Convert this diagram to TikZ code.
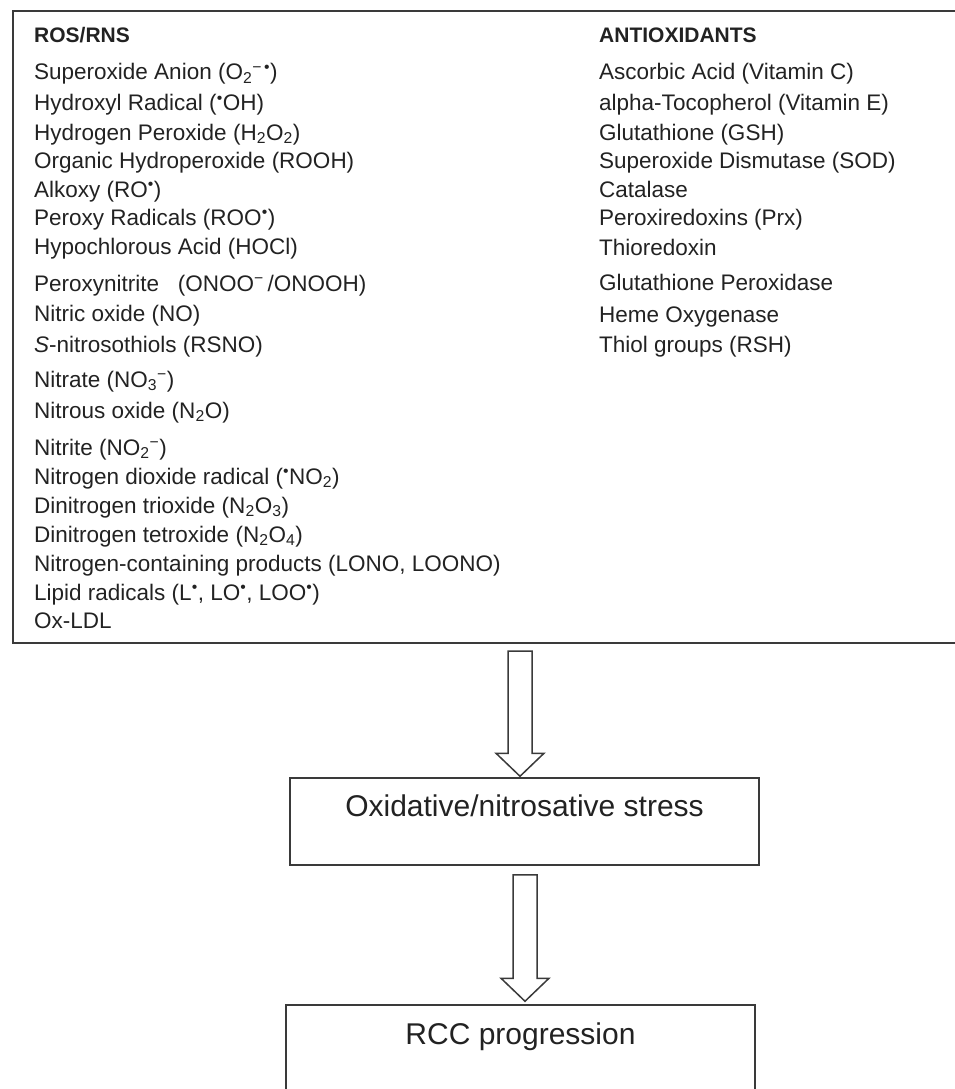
\documentclass[tikz,border=0pt]{standalone}
\usepackage{fontspec}
\setmainfont{Liberation Sans}
\usetikzlibrary{calc, positioning}
\definecolor{inkgray}{HTML}{222222}
\definecolor{framegray}{HTML}{3A3A3A}

% hollow block arrow from a top point to a tip point
\newcommand{\hollowarrow}[2]{%
  \draw[hollow] let \p1=(#1), \p2=(#2) in
    (\x1-12pt,\y1) -- (\x1+12pt,\y1) -- (\x1+12pt,\y2+23pt) -- (\x1+24pt,\y2+23pt)
    -- (\x2,\y2) -- (\x1-24pt,\y2+23pt) -- (\x1-12pt,\y2+23pt) -- cycle;}

\begin{document}
\begin{tikzpicture}[x=1pt, y=-1pt,
  panel/.style={draw=framegray, line width=2pt, inner sep=0pt},
  flowbox/.style={draw=framegray, line width=1.5pt, inner sep=0pt,
    minimum width=469pt, minimum height=87pt},
  item/.style={anchor=base west, inner sep=0pt, text=inkgray,
    font=\fontsize{22.5}{26}\selectfont},
  head/.style={item, font=\fontsize{21}{26}\selectfont\bfseries},
  flowtext/.style={anchor=base, inner sep=0pt, text=inkgray,
    font=\fontsize{30}{34}\selectfont},
  hollow/.style={draw=framegray, line width=1.5pt, line join=miter, fill=white}]
\useasboundingbox (0,0) rectangle (955,1089);

% Top panel with the two lists
\node[panel, minimum width=952pt, minimum height=632pt] (ros) at (489,327) {};

% ROS/RNS column
\node[head] (roshead) at (34,43) {ROS/RNS};
\node[item] (r1) at (34,80) {Superoxide Anion (O\textsubscript{2}\textsuperscript{−\,•})};
\node[item] (r2) at (34,111) {Hydroxyl Radical (\textsuperscript{•}OH)};
\node[item] (r3) at (34,140) {Hydrogen Peroxide (H\textsubscript{2}O\textsubscript{2})};
\node[item] (r4) at (34,168) {Organic Hydroperoxide (ROOH)};
\node[item] (r5) at (34,197) {Alkoxy (RO\textsuperscript{•})};
\node[item] (r6) at (34,225) {Peroxy Radicals (ROO\textsuperscript{•})};
\node[item] (r7) at (34,254) {Hypochlorous Acid (HOCl)};
\node[item] (r8) at (34,291) {Peroxynitrite\ \ \ (ONOO\textsuperscript{−}\,/ONOOH)};
\node[item] (r9) at (34,321) {Nitric oxide (NO)};
\node[item] (r10) at (34,352) {\textit{S}-nitrosothiols (RSNO)};
\node[item] (r11) at (34,387) {Nitrate (NO\textsubscript{3}\textsuperscript{−})};
\node[item] (r12) at (34,418) {Nitrous oxide (N\textsubscript{2}O)};
\node[item] (r13) at (34,455) {Nitrite (NO\textsubscript{2}\textsuperscript{−})};
\node[item] (r14) at (34,484) {Nitrogen dioxide radical (\textsuperscript{•}NO\textsubscript{2})};
\node[item] (r15) at (34,513) {Dinitrogen trioxide (N\textsubscript{2}O\textsubscript{3})};
\node[item] (r16) at (34,542) {Dinitrogen tetroxide (N\textsubscript{2}O\textsubscript{4})};
\node[item] (r17) at (34,571) {Nitrogen-containing products (LONO, LOONO)};
\node[item] (r18) at (34,600) {Lipid radicals (L\textsuperscript{•}, LO\textsuperscript{•}, LOO\textsuperscript{•})};
\node[item] (r19) at (34,628) {Ox-LDL};

% ANTIOXIDANTS column
\node[head] (antihead) at (599,43) {ANTIOXIDANTS};
\node[item] (a1) at (599,80) {Ascorbic Acid (Vitamin C)};
\node[item] (a2) at (599,111) {alpha-Tocopherol (Vitamin E)};
\node[item] (a3) at (599,140) {Glutathione (GSH)};
\node[item] (a4) at (599,168) {Superoxide Dismutase (SOD)};
\node[item] (a5) at (599,197) {Catalase};
\node[item] (a6) at (599,225) {Peroxiredoxins (Prx)};
\node[item] (a7) at (599,255) {Thioredoxin};
\node[item] (a8) at (599,290) {Glutathione Peroxidase};
\node[item] (a9) at (599,322) {Heme Oxygenase};
\node[item] (a10) at (599,352) {Thiol groups (RSH)};

% Flow boxes
\node[flowbox] (stress) at (524.5,821.5) {};
\node[flowtext] (stresstxt) at ($(stress.north)+(0,39)$) {Oxidative/nitrosative stress};
\node[flowbox] (rcc) at (520.5,1048.5) {};
\node[flowtext] (rcctxt) at ($(rcc.north)+(0,40)$) {RCC progression};

% Block arrows
\coordinate (ar1top) at ($(stress.north |- ros.south)+(-4.5,7)$);
\coordinate (ar1tip) at ($(stress.north)+(-4.5,-1)$);
\coordinate (ar2top) at ($(stress.south)+(0.5,9)$);
\coordinate (ar2tip) at ($(stress.south |- rcc.north)+(0.5,-3)$);
\hollowarrow{ar1top}{ar1tip}
\hollowarrow{ar2top}{ar2tip}
\end{tikzpicture}
\end{document}
